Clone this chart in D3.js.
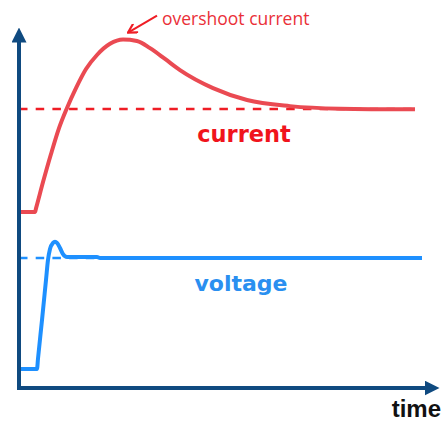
<!DOCTYPE html>
<html>
<head>
<meta charset="utf-8">
<script src="https://cdn.jsdelivr.net/npm/d3@7"></script>
<style>
  html, body { margin: 0; padding: 0; background: #ffffff; }
  svg { display: block; }
</style>
</head>
<body>
<script>
// Step response of a load: current overshoots before settling, voltage settles fast.
const currentTime  = [0, 3.97, 4.22, 5.96, 7.94, 9.93, 11.91, 14.14, 16.63, 19.35, 22.58, 25.81, 29.28, 32.51, 36.23, 39.95, 48.14, 56.58, 67.25, 79.65, 98.26];
const currentValue = [48.9, 48.9, 49.9, 57.2, 65.0, 72.2, 77.8, 83.3, 88.6, 92.5, 95.6, 96.8, 96.4, 94.4, 91.4, 88.3, 83.3, 80.0, 78.3, 77.6, 77.4];

const voltageTime  = [0, 4.47, 4.71, 5.71, 6.7, 7.2, 7.69, 8.44, 8.93, 9.43, 10.17, 10.92, 11.91, 19.35, 20.1, 100];
const voltageValue = [5.3, 5.3, 8.1, 18.9, 30.0, 35.6, 38.6, 40.3, 40.6, 40.3, 38.9, 37.2, 36.4, 36.4, 36.1, 36.1];

const currentSteady = 77.5;
const voltageSteady = 36.1;

const labels = { current: "current", voltage: "voltage", time: "time", overshoot: "overshoot current" };

const W = 445, H = 423;
const axisColor = "#0f4a80";
const red = "#ea4a52", redDash = "#ef1d25", redText = "#f0141c";
const blue = "#1e90ff", blueText = "#2a8ff0";

const x = d3.scaleLinear().domain([0, 100]).range([19, 422]);
const y = d3.scaleLinear().domain([0, 100]).range([388, 28]);

const svg = d3.select("body").append("svg").attr("width", W).attr("height", H);

const defs = svg.append("defs");
defs.append("marker")
  .attr("id", "axisHead").attr("viewBox", "0 0 10 10")
  .attr("refX", 1).attr("refY", 5)
  .attr("markerUnits", "userSpaceOnUse")
  .attr("markerWidth", 15).attr("markerHeight", 15)
  .attr("orient", "auto")
  .append("path").attr("d", "M0,0 L10,5 L0,10 Z").attr("fill", axisColor);
defs.append("marker")
  .attr("id", "noteHead").attr("viewBox", "0 0 10 10")
  .attr("refX", 9).attr("refY", 5)
  .attr("markerUnits", "userSpaceOnUse")
  .attr("markerWidth", 11).attr("markerHeight", 11)
  .attr("orient", "auto")
  .append("path").attr("d", "M1,0.5 L9,5 L1,9.5").attr("fill", "none")
  .attr("stroke", redDash).attr("stroke-width", 2);

// Axes without ticks, with arrowheads at their far ends
const xAxis = d3.axisBottom(x).tickValues([]).tickSizeOuter(0);
const yAxis = d3.axisLeft(y).tickValues([]).tickSizeOuter(0);

const line = d3.line().x(d => x(d[0])).y(d => y(d[1])).curve(d3.curveMonotoneX);
const flat = d3.line().x(d => x(d[0])).y(d => y(d[1]));

// Steady-state reference levels
svg.append("path")
  .attr("d", flat([[0, currentSteady], [currentTime[currentTime.length - 1], currentSteady]]))
  .attr("fill", "none").attr("stroke", redDash).attr("stroke-width", 2.5)
  .attr("stroke-dasharray", "8.5,8.2");
svg.append("path")
  .attr("d", flat([[0, voltageSteady], [voltageTime[voltageTime.length - 1], voltageSteady]]))
  .attr("fill", "none").attr("stroke", blue).attr("stroke-width", 2.5)
  .attr("stroke-dasharray", "8.5,8.2");

// Series
const currentPts = currentTime.map((t, i) => [t, currentValue[i]]);
const voltagePts = voltageTime.map((t, i) => [t, voltageValue[i]]);

svg.append("path").attr("d", line(currentPts))
  .attr("fill", "none").attr("stroke", red).attr("stroke-width", 4)
  .attr("stroke-linejoin", "round");
svg.append("path").attr("d", line(voltagePts))
  .attr("fill", "none").attr("stroke", blue).attr("stroke-width", 4)
  .attr("stroke-linejoin", "round");

// Axis lines
const gx = svg.append("g").attr("transform", `translate(0,${y(0)})`).call(xAxis);
gx.select(".domain")
  .attr("d", `M${x(0) - 2},0H${W - 19}`)
  .attr("stroke", axisColor).attr("stroke-width", 4)
  .attr("marker-end", "url(#axisHead)");
const gy = svg.append("g").attr("transform", `translate(${x(0)},0)`).call(yAxis);
gy.select(".domain")
  .attr("d", `M0,${y(0) + 2}V${41}`)
  .attr("stroke", axisColor).attr("stroke-width", 4)
  .attr("marker-end", "url(#axisHead)");

// Labels
svg.append("text").text(labels.current)
  .attr("x", 244).attr("y", 142).attr("text-anchor", "middle")
  .attr("font-family", "DejaVu Sans").attr("font-weight", "bold")
  .attr("font-size", 22.5).attr("fill", redText);
svg.append("text").text(labels.voltage)
  .attr("x", 241).attr("y", 291).attr("text-anchor", "middle")
  .attr("font-family", "DejaVu Sans").attr("font-weight", "bold")
  .attr("font-size", 22).attr("fill", blueText);
svg.append("text").text(labels.time)
  .attr("x", 441).attr("y", 417).attr("text-anchor", "end")
  .attr("font-family", "Liberation Sans").attr("font-weight", "bold")
  .attr("font-size", 24).attr("fill", "#111111");

// Overshoot annotation pointing at the current peak
const peakIdx = d3.maxIndex(currentValue);
const px = x(currentTime[peakIdx]), py = y(currentValue[peakIdx]);
svg.append("line")
  .attr("x1", px + 34).attr("y1", py - 24)
  .attr("x2", px + 5).attr("y2", py - 7)
  .attr("stroke", redDash).attr("stroke-width", 2)
  .attr("marker-end", "url(#noteHead)");
svg.append("text").text(labels.overshoot)
  .attr("x", 162).attr("y", 25)
  .attr("font-family", "Open Sans").attr("font-size", 17.5)
  .attr("fill", "#ea3038");
</script>
</body>
</html>
